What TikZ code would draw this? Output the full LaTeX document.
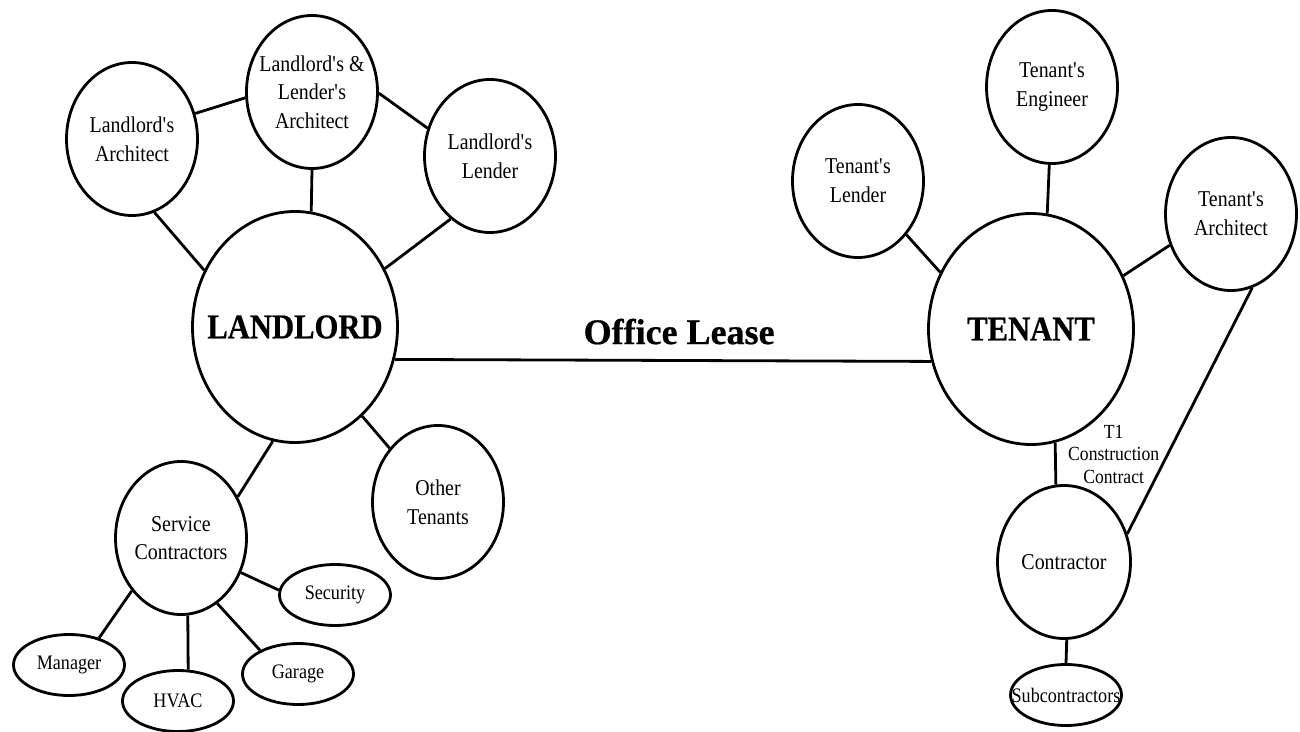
\documentclass[tikz,border=0pt]{standalone}
\usepackage{fontspec}
\setmainfont[FakeStretch=0.88,BoldFeatures={FakeBold=0.6}]{Liberation Serif}
\newfontfamily\leasefont[BoldFeatures={FakeBold=0.6}]{Liberation Serif}
\usetikzlibrary{shapes.geometric}

\begin{document}
\begin{tikzpicture}[x=0.5pt,y=-0.5pt,line width=1.4pt,
  hub/.style={draw,ellipse,inner sep=0pt,minimum width=102.5pt,minimum height=115.5pt,
    label={[inner sep=0pt,font=\bfseries\fontsize{17.4}{20}\selectfont]center:#1}},
  bubble/.style={draw,ellipse,inner sep=0pt,minimum width=65.5pt,minimum height=76.5pt,
    label={[align=center,inner sep=0pt,font=\fontsize{11.3}{14.3}\selectfont]center:#1}},
  minibubble/.style={draw,ellipse,inner sep=0pt,minimum width=55.5pt,minimum height=30.5pt,
    label={[inner sep=0pt,font=\fontsize{10.3}{12}\selectfont]center:#1}}]
\useasboundingbox (0,0) rectangle (1300,732);

\node[hub=LANDLORD] (landlord) at (295,327) {};
\node[hub=TENANT] (tenant) at (1031,329) {};

\node[bubble={Landlord\textquotesingle s\\Architect}] (larch) at (132,139) {};
\node[bubble={Landlord\textquotesingle s \&\\Lender\textquotesingle s\\Architect}] (llarch) at (312,92) {};
\node[bubble={Landlord\textquotesingle s\\Lender}] (llender) at (490,156) {};
\node[bubble={Other\\Tenants}] (others) at (438,502) {};
\node[bubble={Service\\Contractors}] (service) at (181,538) {};

\node[minibubble=Security] (security) at (335,595) {};
\node[minibubble=Manager] (manager) at (69,665) {};
\node[minibubble=HVAC] (hvac) at (178,701) {};
\node[minibubble=Garage] (garage) at (298,674) {};

\node[bubble={Tenant\textquotesingle s\\Lender}] (tlender) at (858,181) {};
\node[bubble={Tenant\textquotesingle s\\Engineer}] (tengineer) at (1052,87) {};
\node[bubble={Tenant\textquotesingle s\\Architect}] (tarch) at (1231,214) {};
\node[bubble=Contractor, minimum width=66.5pt] (contractor) at (1064,562) {};
\node[minibubble=Subcontractors] (subs) at (1066,695) {};

\draw (larch.-73) -- (landlord.148);
\draw (larch.22) -- (llarch.185);
\draw (llarch.-90) -- (landlord.82);
\draw (llarch.-1) -- (llender.156);
\draw (llender.238) -- (landlord.33);
\draw (landlord.-53) -- (others.132);
\draw (landlord.-101) -- (service.36);
\draw (service.-30) -- (security.175);
\draw (service.227) -- (manager.42);
\draw (service.-85) -- (hvac.72);
\draw (service.-61) -- (garage.148);

\draw (landlord.-18.5) -- node[pos=0.53,above=4pt,font=\leasefont\bfseries\fontsize{18}{20}\selectfont] (lease) {Office Lease} (tenant.198);

\draw (tlender.-48) -- (tenant.148);
\draw (tengineer.-92) -- (tenant.82);
\draw (tarch.207) -- (tenant.30);
\draw (tenant.-78) -- node[pos=0.27,right=2.4pt,align=center,font=\fontsize{10}{11.25}\selectfont] (contract) {T1\\Construction\\Contract} (contractor.96.6);
\draw (tarch.-74.5) -- (contractor.24.7);
\draw (contractor.-88.5) -- (subs.90);
\end{tikzpicture}
\end{document}
